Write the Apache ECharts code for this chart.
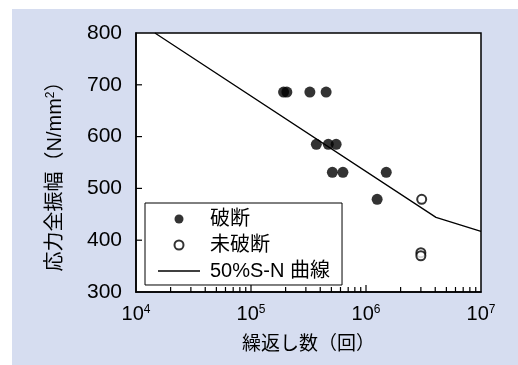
<!DOCTYPE html>
<html>
<head>
<meta charset="utf-8">
<script src="https://cdn.jsdelivr.net/npm/echarts@6/dist/echarts.min.js"></script>
<style>
  html, body { margin: 0; padding: 0; background: #fff; }
  #chart { width: 518px; height: 365px; }
</style>
</head>
<body>
<div id="chart"></div>
<script>
// Fatigue test results: stress range vs. number of cycles
const brokenPoints = [
  [1.92e5, 686], [2.05e5, 686], [3.25e5, 686], [4.5e5, 686],
  [3.7e5, 585], [4.7e5, 585], [5.5e5, 585],
  [5.1e5, 531], [6.3e5, 531], [1.5e6, 531],
  [1.25e6, 479]
];
const runoutPoints = [
  [3.05e6, 479], [3.0e6, 376], [3.0e6, 370]
];
const snCurve = [
  [1.46e4, 800], [4.06e6, 444], [1e7, 417]
];
const majorXTicks = [1e5, 1e6];
const minorXTicks = [
  2e4, 3e4, 4e4, 5e4, 6e4, 7e4, 8e4, 9e4,
  2e5, 3e5, 4e5, 5e5, 6e5, 7e5, 8e5, 9e5,
  2e6, 3e6, 4e6, 5e6, 6e6, 7e6, 8e6, 9e6
];
const yTicks = [400, 500, 600, 700];
const seriesNames = ['破断', '未破断', '50%S-N 曲線'];
const xAxisName = '繰返し数（回）';
const yAxisName = '応力全振幅（N/mm{s|2}）';

const FONT = "'Liberation Sans', 'Noto Sans CJK JP', sans-serif";
const X_MIN = 1e4, X_MAX = 1e7;
const Y_MIN = 300, Y_MAX = 800;

// inward tick marks: [x, y, dx, dy] in data space + pixel direction
function tickSeries(points, dx, dy) {
  return {
    type: 'custom',
    silent: true,
    clip: false,
    z: 6,
    data: points,
    encode: { x: 0, y: 1 },
    renderItem: function (params, api) {
      const p = api.coord([api.value(0), api.value(1)]);
      return {
        type: 'line',
        shape: { x1: p[0], y1: p[1], x2: p[0] + dx, y2: p[1] + dy },
        style: { stroke: '#000', lineWidth: 1.2 }
      };
    }
  };
}

const chart = echarts.init(document.getElementById('chart'), null, { renderer: 'canvas' });

chart.setOption({
  animation: false,
  backgroundColor: '#fff',
  textStyle: { fontFamily: FONT, color: '#000' },
  graphic: {
    elements: [{
      type: 'rect',
      z: -100,
      silent: true,
      shape: { x: 12, y: 9, width: 506, height: 356 },
      style: { fill: '#d6ddf0' }
    }]
  },
  grid: {
    left: 136, top: 33, right: 37, bottom: 73,
    show: true,
    backgroundColor: '#fff',
    borderColor: '#000',
    borderWidth: 1.5
  },
  legend: {
    orient: 'vertical',
    left: 145, top: 203,
    data: [
      { name: seriesNames[0] },
      { name: seriesNames[1] },
      // plain solid stroke for the curve entry
      { name: seriesNames[2], icon: 'path://M0,0 L42,0 L42,1.3 L0,1.3 Z' }
    ],
    backgroundColor: '#fff',
    borderColor: '#000',
    borderWidth: 1,
    borderRadius: 0,
    padding: [6, 12, 4, 13],
    itemGap: 6,
    itemWidth: 42,
    itemHeight: 9,
    selectedMode: false,
    textStyle: { fontSize: 20, color: '#000', fontFamily: FONT, padding: [0, 0, 0, 5] }
  },
  xAxis: {
    type: 'log',
    logBase: 10,
    min: X_MIN,
    max: X_MAX,
    name: xAxisName,
    nameLocation: 'middle',
    nameGap: 43,
    nameTextStyle: { fontSize: 19, color: '#000', fontFamily: FONT },
    axisLine: { show: true, lineStyle: { color: '#000', width: 1.5 } },
    axisTick: { show: false },
    splitLine: { show: false },
    axisLabel: {
      margin: 12,
      fontSize: 20,
      color: '#000',
      fontFamily: FONT,
      showMinLabel: true,
      showMaxLabel: true,
      formatter: function (v) {
        return '10{s|' + Math.round(Math.log10(v)) + '}';
      },
      rich: {
        s: { fontSize: 12, verticalAlign: 'top', color: '#000', fontFamily: FONT }
      }
    }
  },
  yAxis: {
    type: 'value',
    min: Y_MIN,
    max: Y_MAX,
    interval: 100,
    name: yAxisName,
    nameLocation: 'middle',
    nameGap: 71,
    nameRotate: 90,
    nameTextStyle: {
      fontSize: 20, color: '#000', fontFamily: FONT,
      padding: [0, 18, 0, 0],
      rich: {
        s: { fontSize: 12, verticalAlign: 'top', color: '#000', fontFamily: FONT }
      }
    },
    axisLine: { show: true, lineStyle: { color: '#000', width: 1.5 } },
    axisTick: { show: false },
    splitLine: { show: false },
    axisLabel: { margin: 14, fontSize: 21, color: '#000', fontFamily: FONT }
  },
  series: [
    {
      name: seriesNames[0],
      type: 'scatter',
      data: brokenPoints,
      symbol: 'circle',
      symbolSize: 11,
      itemStyle: { color: '#000' },
      z: 5
    },
    {
      name: seriesNames[1],
      type: 'scatter',
      data: runoutPoints,
      symbol: 'circle',
      symbolSize: 9,
      itemStyle: { color: '#fff', borderColor: '#000', borderWidth: 2 },
      z: 5
    },
    {
      name: seriesNames[2],
      type: 'line',
      data: snCurve,
      symbol: 'none',
      showSymbol: false,
      lineStyle: { color: '#000', width: 1.3 },
      itemStyle: { color: '#000' },
      z: 3
    },
    tickSeries(majorXTicks.map(function (v) { return [v, Y_MIN]; }), 0, -7),
    tickSeries(minorXTicks.map(function (v) { return [v, Y_MIN]; }), 0, -5),
    tickSeries(yTicks.map(function (v) { return [X_MIN, v]; }), 6, 0)
  ]
});
</script>
</body>
</html>
